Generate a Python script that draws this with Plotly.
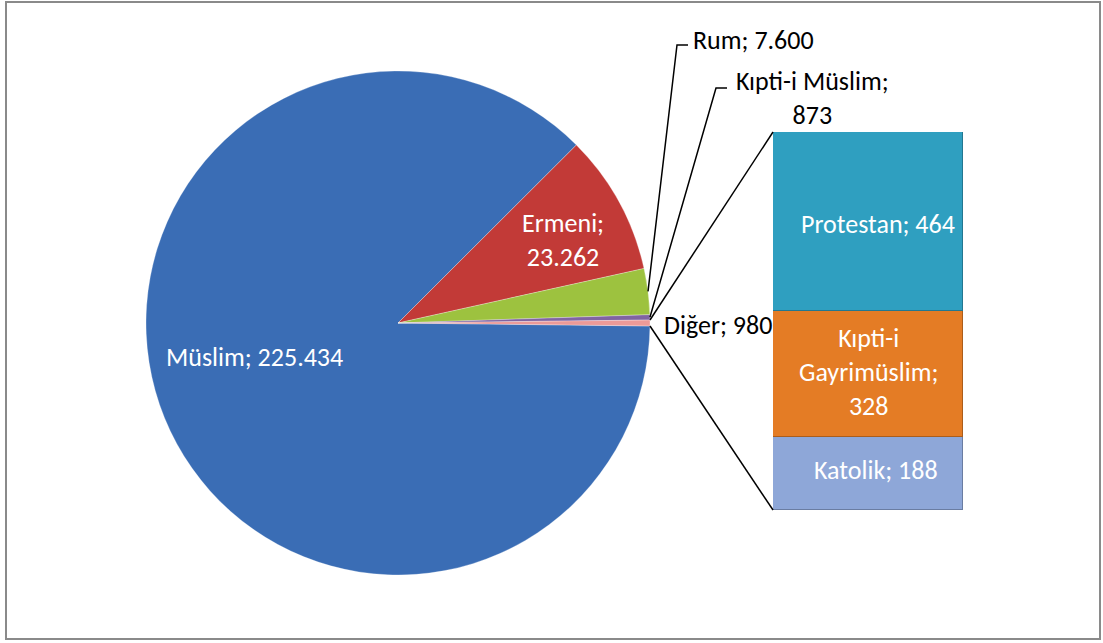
import math
import plotly.graph_objects as go

# ---- data ----
pie_labels = ["Müslim", "Ermeni", "Rum", "Kıpti-i Müslim", "Diğer"]
pie_values = [225434, 23262, 7600, 873, 980]
pie_colors = ["#3a6db5", "#c23a37", "#9dc23f", "#8064a2", "#ec9a98"]

bar_labels = ["Katolik", "Kıpti-i Gayrimüslim", "Protestan"]
bar_values = [188, 328, 464]
bar_colors = ["#8ea7d8", "#e47c25", "#2f9fc0"]

W, H = 1103, 643
FONT = "Carlito, Lato, Calibri, sans-serif"
FS = 26


def fmt(v):
    return f"{v:,}".replace(",", ".")


def px(x):
    return x / W


def py(y):
    return 1 - y / H


# pie geometry (pixels)
cx, cy, r = 398, 323, 252
total = sum(pie_values)
half_other = pie_values[-1] / total * 180.0  # half angle of "Diğer" in degrees

# bar geometry (pixels)
bx0, bx1, by0, by1 = 773, 963, 132, 510

fig = go.Figure()
fig.add_trace(go.Pie(
    labels=pie_labels, values=pie_values, sort=False, direction="clockwise",
    rotation=90 + half_other, textinfo="none", hoverinfo="label+value",
    marker=dict(colors=pie_colors, line=dict(color="rgba(255,255,255,0.35)", width=0.8)),
    domain=dict(x=[px(cx - r), px(cx + r)], y=[py(cy + r), py(cy - r)]),
    showlegend=False,
))

for lab, val, col in zip(bar_labels, bar_values, bar_colors):
    fig.add_trace(go.Bar(
        x=[0], y=[val], width=1, name=lab, marker=dict(color=col, line=dict(color="rgba(0,0,0,0.25)", width=1)),
        xaxis="x", yaxis="y", showlegend=False, hoverinfo="name+y",
    ))


def edge_point(angle_deg):
    # angle above the horizontal (3 o'clock), counter-clockwise positive
    a = math.radians(angle_deg)
    return cx + r * math.cos(a), cy - r * math.sin(a)


shapes = []
# frame
shapes.append(dict(type="rect", xref="paper", yref="paper", x0=px(6), x1=px(1100), y0=py(639), y1=py(2),
                   line=dict(color="#8a8a8a", width=2), fillcolor="rgba(0,0,0,0)"))
# connector lines from Diğer slice to bar
ex, ey = edge_point(half_other)
shapes.append(dict(type="line", xref="paper", yref="paper", x0=px(ex), y0=py(ey), x1=px(bx0), y1=py(by0),
                   line=dict(color="black", width=1.5)))
ex, ey = edge_point(-half_other)
shapes.append(dict(type="line", xref="paper", yref="paper", x0=px(ex), y0=py(ey), x1=px(bx0), y1=py(by1),
                   line=dict(color="black", width=1.5)))

# leader lines for Rum and Kıpti-i Müslim
cum_after = {}
acc = 0.0
for lab, v in zip(reversed(pie_labels), reversed(pie_values)):
    cum_after[lab] = acc
    acc += v


def mid_angle(lab):
    i = pie_labels.index(lab)
    start = cum_after[lab] - pie_values[-1] / 2
    return (start + pie_values[i] / 2) / total * 360.0


leaders = {"Rum": (677, 45, 688), "Kıpti-i Müslim": (716, 88, 727)}
for lab, (kx, ky, hx) in leaders.items():
    sx, sy = edge_point(mid_angle(lab))
    shapes.append(dict(type="path", xref="paper", yref="paper",
                       path=f"M {px(sx)} {py(sy)} L {px(kx)} {py(ky)} L {px(hx)} {py(ky)}",
                       line=dict(color="black", width=1.5)))

v = dict(zip(pie_labels, pie_values))
bv = dict(zip(bar_labels, bar_values))
ann = []


def add(text, x, y, color="white", xanchor="center", align="center"):
    ann.append(dict(text=text, x=px(x), y=py(y), xref="paper", yref="paper", showarrow=False,
                    xanchor=xanchor, yanchor="middle", align=align,
                    font=dict(family=FONT, size=FS, color=color)))


add(f"Ermeni;<br>{fmt(v['Ermeni'])}", 563, 240)
add(f"Müslim; {fmt(v['Müslim'])}", 254, 357)
add(f"Diğer; {fmt(v['Diğer'])}", 662, 325, color="black", xanchor="left")
add(f"Rum; {fmt(v['Rum'])}", 691, 40, color="black", xanchor="left")
add(f"Kıpti-i Müslim;<br>{fmt(v['Kıpti-i Müslim'])}", 812, 98, color="black")
add(f"Protestan; {fmt(bv['Protestan'])}", 878, 224)
add(f"Kıpti-i<br>Gayrimüslim;<br>{fmt(bv['Kıpti-i Gayrimüslim'])}", 868, 372)
add(f"Katolik; {fmt(bv['Katolik'])}", 876, 470)

fig.update_layout(
    width=W, height=H, margin=dict(l=0, r=0, t=0, b=0),
    paper_bgcolor="white", plot_bgcolor="rgba(0,0,0,0)",
    barmode="stack", bargap=0,
    xaxis=dict(domain=[px(bx0), px(bx1)], range=[-0.5, 0.5], visible=False, fixedrange=True),
    yaxis=dict(domain=[py(by1), py(by0)], range=[0, sum(bar_values)], visible=False, fixedrange=True),
    shapes=shapes, annotations=ann,
)

fig.write_html("out.html", config={"displayModeBar": False},
               post_script="document.body.style.margin='0';document.body.style.overflow='hidden';")
